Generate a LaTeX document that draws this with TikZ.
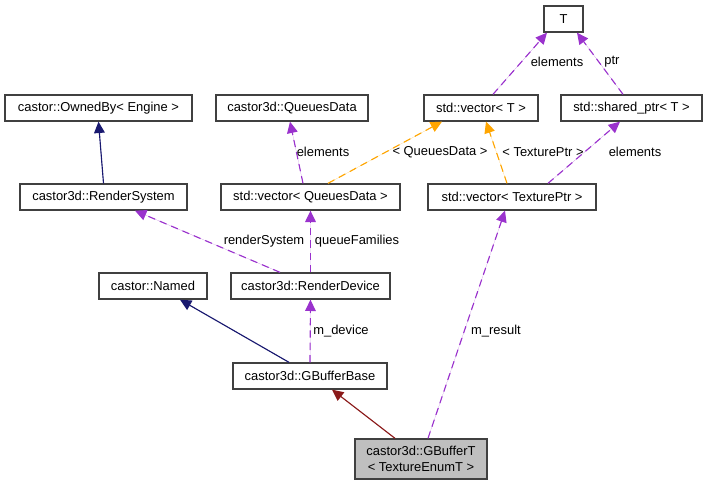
\documentclass[tikz,border=0pt]{standalone}
\usepackage{fontspec}
\setmainfont{Liberation Sans}
\usetikzlibrary{arrows.meta,calc,positioning}
\definecolor{usepurple}{HTML}{9A32CD}
\definecolor{tmplorange}{HTML}{FFA500}
\definecolor{pubnavy}{HTML}{191970}
\definecolor{protred}{HTML}{8B1A1A}
\tikzset{
  cls/.style={draw=black!75, line width=1pt, fill=white, inner sep=0pt,
    minimum height=19.5pt, font=\fontsize{9.7}{11.5}\selectfont},
  lbl/.style={inner sep=0pt, font=\fontsize{9.7}{11.5}\selectfont},
  tip/.style={-{Triangle[length=8.5pt,width=8pt]}},
  pub/.style={tip, draw=pubnavy, fill=pubnavy, line width=0.85pt},
  prot/.style={tip, draw=protred, fill=protred, line width=0.85pt},
  uses/.style={tip, draw=usepurple, fill=usepurple, line width=0.85pt, dash pattern=on 5.5pt off 3.75pt},
  tmpl/.style={tip, draw=tmplorange, fill=tmplorange, line width=0.85pt, dash pattern=on 5.5pt off 3.75pt}
}
\begin{document}
\begin{tikzpicture}[x=0.75pt,y=-0.75pt]
\useasboundingbox (0,0) rectangle (707,485);
% classes
\node[cls, minimum width=29.25pt] (T) at (563.5,19) {T};
\node[cls, minimum width=140.25pt] (OB) at (98.5,108) {castor::OwnedBy< Engine >};
\node[cls, minimum width=114pt] (QD) at (292,108) {castor3d::QueuesData};
\node[cls, minimum width=85.5pt] (vecT) at (481,108) {std::vector< T >};
\node[cls, minimum width=105.75pt] (shptr) at (631.5,108) {std::shared\_ptr< T >};
\node[cls, minimum width=125.25pt] (RS) at (103.5,197) {castor3d::RenderSystem};
\node[cls, minimum width=134.25pt] (vecQD) at (310.5,197) {std::vector< QueuesData >};
\node[cls, minimum width=126pt] (vecTP) at (512,197) {std::vector< TexturePtr >};
\node[cls, minimum width=81pt] (Named) at (153,286) {castor::Named};
\node[cls, minimum width=119.25pt] (RD) at (310.5,286) {castor3d::RenderDevice};
\node[cls, minimum width=115.5pt] (GB) at (310,376) {castor3d::GBufferBase};
\node[cls, minimum width=99pt, minimum height=30pt, fill=black!25, align=center] (GT) at (421,459) {castor3d::GBufferT\\< TextureEnumT >};

% inheritance
\draw[pub] (RS.north) -- (OB.south);
\draw[pub] ($(GB.north)+(-21,0)$) -- ($(Named.south)+(27,0)$);
\draw[prot] ($(GT.north)+(-26,0)$) -- ($(GB.south)+(22,0)$);

% usage
\draw[uses] ($(vecT.north)+(12,0)$) -- ($(T.south)+(-16.5,0)$);
\draw[uses] ($(shptr.north)+(-8.5,0)$) -- ($(T.south)+(13.5,0)$);
\draw[uses] ($(vecQD.north)+(-7.5,0)$) -- ($(QD.south)+(-2,0)$);
\draw[uses] ($(vecTP.north)+(36,0)$) -- ($(shptr.south)+(-11.5,0)$);
\draw[uses] ($(RD.north)+(-30.5,0)$) -- ($(RS.south)+(31.5,0)$);
\draw[uses] (RD.north) -- (vecQD.south);
\draw[uses] (GB.north) -- (RD.south);
\draw[uses] ($(GT.north)+(7,0)$) -- ($(vecTP.south)+(-7,0)$);

% templates
\draw[tmpl] ($(vecQD.north)+(17.5,0)$) -- ($(vecT.south)+(-39,0)$);
\draw[tmpl] ($(vecTP.north)+(-5,0)$) -- ($(vecT.south)+(5,0)$);

% labels
\node[lbl] (lElT) at (557,62) {elements};
\node[lbl] (lPtr) at (612,62) {ptr};
\node[lbl] (lElQD) at (323,152) {elements};
\node[lbl] (lTQD) at (440,152) {< QueuesData >};
\node[lbl] (lTTP) at (543,152) {< TexturePtr >};
\node[lbl] (lElSP) at (635,152) {elements};
\node[lbl] (lRS) at (264,241) {renderSystem};
\node[lbl] (lQF) at (357,241) {queueFamilies};
\node[lbl] (lDev) at (341,331) {m\_device};
\node[lbl] (lRes) at (496,331) {m\_result};
\end{tikzpicture}
\end{document}
